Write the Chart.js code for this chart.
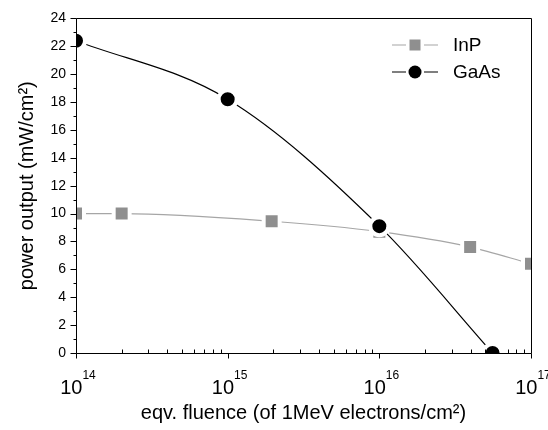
<!DOCTYPE html>
<html><head><meta charset="utf-8">
<script src="https://cdn.jsdelivr.net/npm/chart.js@4/dist/chart.umd.min.js"></script>
<style>html,body{margin:0;padding:0;background:#fff}#wrap{width:548px;height:430px;position:relative}</style>
</head><body><div id="wrap"><canvas id="c"></canvas></div>
<script>
// ---- data ----
const inpFluence  = [1e14, 2e14, 1.95e15, 1e16, 3.97e16, 1e17];
const inpPower    = [10.0, 10.0, 9.45, 8.7, 7.6, 6.4];
const gaasFluence = [1e14, 1e15, 1e16, 5.58e16];
const gaasPower   = [22.4, 18.2, 9.1, 0];
const seriesNames = ['InP', 'GaAs'];
const yTickValues = [0, 2, 4, 6, 8, 10, 12, 14, 16, 18, 20, 22, 24];
const xDecadeExponents = [14, 15, 16, 17];
const xTitle = 'eqv. fluence (of 1MeV electrons/cm\u00B2)';
const yTitle = 'power output (mW/cm\u00B2)';

const FONT = '"Liberation Sans", Arial, Helvetica, sans-serif';
const INP_MARK = '#8f8f8f', INP_LINE = '#a6a6a6', GAAS = '#000000';

const toXY = (xs, ys) => xs.map((x, i) => ({x: x, y: ys[i]}));

const decorPlugin = {
  id: 'decor',
  afterDraw(chart) {
    const ctx = chart.ctx, a = chart.chartArea;
    const xs = chart.scales.x, ys = chart.scales.y;
    ctx.save();
    // markers sitting on the frame are cut at the frame: mask the thin band outside it
    ctx.fillStyle = '#ffffff';
    const m = 9;
    ctx.fillRect(a.left - m, a.top - m, m, a.bottom - a.top + 2 * m);
    ctx.fillRect(a.right, a.top - m, m, a.bottom - a.top + 2 * m);
    ctx.fillRect(a.left - m, a.bottom, a.right - a.left + 2 * m, m);
    ctx.fillRect(a.left - m, a.top - m, a.right - a.left + 2 * m, m);

    const L = Math.round(a.left) + 0.5, R = Math.round(a.right) + 0.5;
    const T = Math.round(a.top) + 0.5, B = Math.round(a.bottom) + 0.5;
    ctx.strokeStyle = '#000'; ctx.lineWidth = 1;
    ctx.beginPath();
    ctx.moveTo(L, T); ctx.lineTo(R, T); ctx.lineTo(R, B); ctx.lineTo(L, B); ctx.closePath();
    ctx.stroke();
    // y ticks (major outward 6, minor outward 3)
    ctx.beginPath();
    for (let v = yTickValues[0]; v <= yTickValues[yTickValues.length - 1]; v += 1) {
      const py = Math.round(ys.getPixelForValue(v)) + 0.5;
      const len = yTickValues.includes(v) ? 6 : 3;
      ctx.moveTo(L - len, py); ctx.lineTo(L, py);
    }
    // x ticks (major outward 5, minor inward 4)
    const e0 = xDecadeExponents[0], e1 = xDecadeExponents[xDecadeExponents.length - 1];
    for (let e = e0; e <= e1; e++) {
      const px = Math.round(xs.getPixelForValue(Math.pow(10, e))) + 0.5;
      ctx.moveTo(px, B); ctx.lineTo(px, B + 5);
      if (e < e1) {
        for (let k = 2; k <= 9; k++) {
          const qx = Math.round(xs.getPixelForValue(k * Math.pow(10, e))) + 0.5;
          ctx.moveTo(qx, B); ctx.lineTo(qx, B - 4);
        }
      }
    }
    ctx.stroke();
    // x tick labels 10^n
    ctx.fillStyle = '#000';
    ctx.textBaseline = 'alphabetic';
    ctx.textAlign = 'left';
    xDecadeExponents.forEach(e => {
      const px = xs.getPixelForValue(Math.pow(10, e));
      ctx.font = '20px ' + FONT;
      const wb = ctx.measureText('10').width;
      ctx.font = '12px ' + FONT;
      const ws = ctx.measureText(String(e)).width;
      const x0 = px + 2 - (wb + ws) / 2;
      ctx.font = '20px ' + FONT;
      ctx.fillText('10', x0, 394);
      ctx.font = '12px ' + FONT;
      ctx.fillText(String(e), x0 + wb, 379);
    });
    // legend
    const legend = [
      {name: seriesNames[0], y: 45, line: INP_LINE, mark: INP_MARK, style: 'rect'},
      {name: seriesNames[1], y: 72, line: GAAS, mark: GAAS, style: 'circle'}
    ];
    legend.forEach(it => {
      ctx.strokeStyle = it.line; ctx.lineWidth = 1.2;
      ctx.beginPath();
      ctx.moveTo(392, it.y); ctx.lineTo(406, it.y);
      ctx.moveTo(424, it.y); ctx.lineTo(438, it.y);
      ctx.stroke();
      ctx.fillStyle = it.mark;
      if (it.style === 'rect') ctx.fillRect(409.5, it.y - 5.5, 11, 11);
      else { ctx.beginPath(); ctx.arc(415, it.y, 6.5, 0, Math.PI * 2); ctx.fill(); }
      ctx.fillStyle = '#000';
      ctx.font = '19px ' + FONT;
      ctx.textBaseline = 'middle';
      ctx.fillText(it.name, 453, it.y + 1);
    });
    ctx.restore();
  }
};

new Chart(document.getElementById('c'), {
  type: 'line',
  data: {
    datasets: [
      {
        label: seriesNames[0],
        data: toXY(inpFluence, inpPower),
        borderColor: INP_LINE, borderWidth: 1.2,
        backgroundColor: INP_MARK,
        pointStyle: 'rect', pointRadius: 11.3, pointBorderWidth: 4,
        pointBackgroundColor: INP_MARK, pointBorderColor: '#ffffff',
        cubicInterpolationMode: 'monotone', clip: 0, order: 1
      },
      {
        label: seriesNames[1],
        data: toXY(gaasFluence, gaasPower),
        borderColor: GAAS, borderWidth: 1.2,
        backgroundColor: GAAS,
        pointStyle: 'circle', pointRadius: 9, pointBorderWidth: 4,
        pointBackgroundColor: GAAS, pointBorderColor: '#ffffff',
        cubicInterpolationMode: 'monotone', clip: 0, order: 0
      }
    ]
  },
  options: {
    responsive: true, maintainAspectRatio: false, animation: false,
    devicePixelRatio: 1,
    layout: {padding: {top: 15, right: 17, left: 0, bottom: 0}},
    plugins: {legend: {display: false}, tooltip: {enabled: false}},
    scales: {
      x: {
        type: 'logarithmic', min: 1e14, max: 1e17,
        grid: {display: false, drawTicks: false}, border: {display: false},
        ticks: {display: false},
        title: {display: true, text: xTitle, color: '#000', font: {family: FONT, size: 20}, padding: {top: 0, bottom: 5}},
        afterFit(s) { s.height = 77; }
      },
      y: {
        type: 'linear', min: 0, max: 24,
        grid: {display: false, drawTicks: false}, border: {display: false},
        afterBuildTicks(s) { s.ticks = yTickValues.map(v => ({value: v})); },
        ticks: {color: '#000', padding: 10, font: {family: FONT, size: 14}},
        title: {display: true, text: yTitle, color: '#000', font: {family: FONT, size: 20}, padding: {top: 15, bottom: 0}},
        afterFit(s) { s.width = 76; }
      }
    }
  },
  plugins: [decorPlugin]
});
</script></body></html>
